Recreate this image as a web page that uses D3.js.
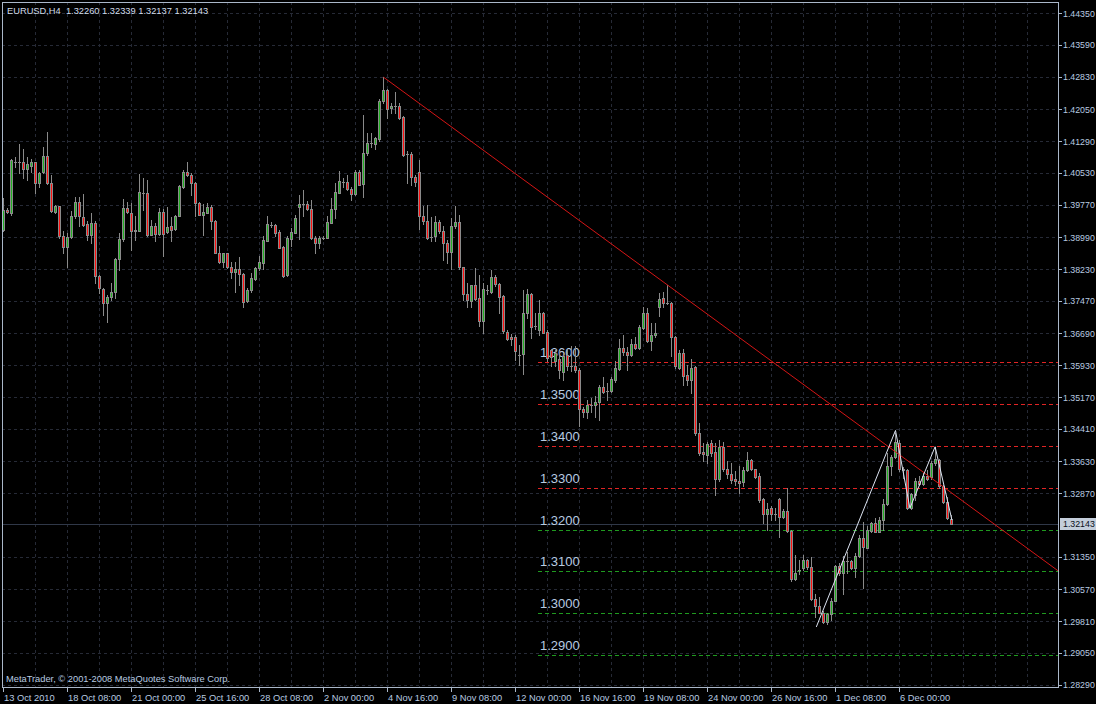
<!DOCTYPE html>
<html><head><meta charset="utf-8">
<script src="https://cdn.jsdelivr.net/npm/d3@7"></script>
<style>
html,body{margin:0;padding:0;background:#000;}
svg{display:block;}
</style></head><body>
<svg id="chart" width="1096" height="704"></svg>
<script>
// ---------------- data ----------------
const titleText = "EURUSD,H4  1.32260 1.32339 1.32137 1.32143";
const copyrightText = "MetaTrader, \u00A9 2001-2008 MetaQuotes Software Corp.";

const opens = [1.3917,1.3964,1.3958,1.4080,1.4078,1.4078,1.4063,1.4070,1.4078,1.4028,
1.4054,1.4094,1.4028,1.3960,1.3973,1.3901,1.3875,1.3899,1.3949,1.3984,
1.3947,1.3930,1.3904,1.3933,1.3807,1.3775,1.3741,1.3756,1.3767,1.3847,
1.3894,1.3968,1.3957,1.3917,1.3915,1.4006,1.4005,1.3905,1.3925,1.3907,
1.3959,1.3911,1.3925,1.3918,1.3951,1.4020,1.4054,1.4047,1.4028,1.3982,
1.3953,1.3958,1.3971,1.3939,1.3862,1.3839,1.3861,1.3827,1.3816,1.3824,
1.3811,1.3747,1.3772,1.3799,1.3825,1.3837,1.3891,1.3929,1.3929,1.3911,
1.3875,1.3808,1.3896,1.3910,1.3972,1.3978,1.3978,1.3966,1.3897,1.3885,
1.3898,1.3898,1.3934,1.3966,1.4006,1.4032,1.4031,1.4015,1.4002,1.4054,
1.4026,1.4100,1.4124,1.4121,1.4133,1.4224,1.4251,1.4208,1.4212,1.4212,
1.4186,1.4098,1.4098,1.4043,1.4055,1.3951,1.3937,1.3900,1.3901,1.3935,
1.3913,1.3885,1.3865,1.3925,1.3935,1.3827,1.3764,1.3747,1.3785,1.3753,
1.3700,1.3773,1.3769,1.3804,1.3787,1.3759,1.3673,1.3661,1.3661,1.3618,
1.3619,1.3717,1.3763,1.3687,1.3677,1.3717,1.3673,1.3630,1.3602,1.3607,
1.3578,1.3618,1.3591,1.3592,1.3582,1.3488,1.3481,1.3497,1.3498,1.3504,
1.3542,1.3532,1.3532,1.3558,1.3585,1.3634,1.3624,1.3618,1.3644,1.3634,
1.3683,1.3717,1.3652,1.3665,1.3733,1.3753,1.3743,1.3741,1.3661,1.3586,
1.3622,1.3570,1.3558,1.3588,1.3432,1.3386,1.3379,1.3406,1.3386,1.3320,
1.3398,1.3344,1.3333,1.3320,1.3317,1.3313,1.3343,1.3366,1.3344,1.3327,
1.3272,1.3236,1.3251,1.3237,1.3273,1.3229,1.3244,1.3197,1.3081,1.3103,
1.3107,1.3127,1.3111,1.3033,1.3017,1.3001,1.2980,1.2998,1.3030,1.3113,
1.3095,1.3124,1.3125,1.3109,1.3137,1.3180,1.3157,1.3197,1.3215,1.3194,
1.3223,1.3261,1.3352,1.3373,1.3406,1.3344,1.3343,1.3251,1.3283,1.3316,
1.3308,1.3327,1.3325,1.3358,1.3366,1.3304,1.3267,1.32260];

const highs = [1.3992,1.3968,1.4086,1.4092,1.4122,1.4110,1.4090,1.4087,1.4080,1.4054,
1.4114,1.4152,1.4048,1.3976,1.3975,1.3913,1.3909,1.3963,1.3996,1.3996,
1.4003,1.3937,1.3957,1.3939,1.3809,1.3777,1.3761,1.3789,1.3849,1.3909,
1.3990,1.3984,1.3980,1.3950,1.4050,1.4040,1.4036,1.3941,1.3933,1.3968,
1.3967,1.3971,1.3947,1.3953,1.4024,1.4059,1.4079,1.4052,1.4032,1.3984,
1.3979,1.3980,1.3976,1.3941,1.3877,1.3862,1.3862,1.3841,1.3841,1.3853,
1.3813,1.3777,1.3813,1.3827,1.3854,1.3901,1.3951,1.3935,1.3931,1.3917,
1.3877,1.3901,1.3921,1.3953,1.3999,1.4011,1.3987,1.3988,1.3901,1.3903,
1.3903,1.3949,1.3992,1.4028,1.4058,1.4040,1.4047,1.4020,1.4060,1.4060,
1.4192,1.4148,1.4148,1.4140,1.4229,1.4282,1.4253,1.4221,1.4247,1.4220,
1.4189,1.4106,1.4104,1.4048,1.4084,1.3975,1.3976,1.3947,1.3949,1.3941,
1.3925,1.3893,1.3945,1.3974,1.3953,1.3829,1.3789,1.3785,1.3825,1.3809,
1.3789,1.3785,1.3821,1.3808,1.3789,1.3761,1.3677,1.3668,1.3665,1.3642,
1.3773,1.3775,1.3765,1.3717,1.3748,1.3720,1.3677,1.3632,1.3630,1.3626,
1.3622,1.3630,1.3639,1.3639,1.3586,1.3494,1.3510,1.3514,1.3520,1.3546,
1.3564,1.3550,1.3564,1.3604,1.3656,1.3665,1.3636,1.3655,1.3660,1.3689,
1.3733,1.3731,1.3695,1.3693,1.3765,1.3767,1.3785,1.3745,1.3663,1.3630,
1.3631,1.3594,1.3607,1.3590,1.3454,1.3406,1.3410,1.3414,1.3406,1.3414,
1.3410,1.3363,1.3360,1.3339,1.3351,1.3350,1.3386,1.3368,1.3346,1.3336,
1.3275,1.3263,1.3256,1.3251,1.3275,1.3248,1.3300,1.3199,1.3139,1.3127,
1.3139,1.3129,1.3135,1.3046,1.3038,1.3004,1.3001,1.3036,1.3115,1.3121,
1.3137,1.3147,1.3127,1.3145,1.3187,1.3219,1.3209,1.3219,1.3227,1.3231,
1.3272,1.3382,1.3378,1.3430,1.3413,1.3350,1.3346,1.3288,1.3323,1.3328,
1.3335,1.3343,1.3365,1.3398,1.3368,1.3307,1.3279,1.32339];

const lows = [1.3915,1.3957,1.3953,1.4068,1.4052,1.4040,1.4035,1.4054,1.4006,1.4020,
1.4052,1.4027,1.3959,1.3958,1.3897,1.3861,1.3829,1.3897,1.3945,1.3925,
1.3925,1.3893,1.3885,1.3789,1.3765,1.3712,1.3697,1.3749,1.3753,1.3821,
1.3890,1.3957,1.3869,1.3893,1.3913,1.3964,1.3902,1.3904,1.3889,1.3905,
1.3854,1.3909,1.3890,1.3917,1.3950,1.4016,1.4046,1.4000,1.3949,1.3952,
1.3905,1.3957,1.3919,1.3861,1.3837,1.3829,1.3825,1.3801,1.3768,1.3785,
1.3733,1.3744,1.3769,1.3797,1.3821,1.3823,1.3889,1.3923,1.3901,1.3873,
1.3805,1.3807,1.3877,1.3909,1.3894,1.3949,1.3965,1.3894,1.3862,1.3873,
1.3894,1.3897,1.3933,1.3946,1.4004,1.4020,1.4012,1.3988,1.4000,1.4023,
1.3996,1.4096,1.4114,1.4111,1.4130,1.4220,1.4185,1.4196,1.4196,1.4181,
1.4094,1.4029,1.4024,1.4022,1.3918,1.3931,1.3894,1.3889,1.3889,1.3909,
1.3845,1.3837,1.3823,1.3921,1.3823,1.3749,1.3733,1.3733,1.3749,1.3686,
1.3670,1.3763,1.3765,1.3783,1.3717,1.3670,1.3653,1.3642,1.3606,1.3594,
1.3572,1.3705,1.3657,1.3679,1.3665,1.3669,1.3602,1.3590,1.3590,1.3562,
1.3558,1.3582,1.3580,1.3578,1.3448,1.3470,1.3466,1.3480,1.3470,1.3462,
1.3526,1.3510,1.3530,1.3554,1.3582,1.3618,1.3582,1.3616,1.3632,1.3632,
1.3679,1.3649,1.3630,1.3661,1.3711,1.3733,1.3740,1.3614,1.3586,1.3583,
1.3546,1.3546,1.3526,1.3426,1.3379,1.3363,1.3359,1.3375,1.3283,1.3315,
1.3339,1.3323,1.3311,1.3307,1.3287,1.3303,1.3341,1.3343,1.3323,1.3267,
1.3215,1.3199,1.3223,1.3223,1.3181,1.3227,1.3195,1.3078,1.3079,1.3094,
1.3103,1.3105,1.3032,1.2992,1.3000,1.2976,1.2974,1.2984,1.3028,1.3091,
1.3046,1.3095,1.3105,1.3087,1.3135,1.3060,1.3155,1.3195,1.3193,1.3193,
1.3199,1.3259,1.3331,1.3370,1.3341,1.3323,1.3248,1.3248,1.3271,1.3307,
1.3307,1.3319,1.3321,1.3354,1.3299,1.3264,1.3225,1.32137];

const closes = [1.3964,1.3960,1.4084,1.4080,1.4078,1.4063,1.4074,1.4079,1.4028,1.4052,
1.4094,1.4028,1.3963,1.3974,1.3901,1.3875,1.3899,1.3950,1.3984,1.3949,
1.3929,1.3904,1.3933,1.3807,1.3777,1.3741,1.3757,1.3768,1.3847,1.3894,
1.3968,1.3959,1.3913,1.3913,1.4007,1.4006,1.3905,1.3925,1.3907,1.3959,
1.3907,1.3923,1.3917,1.3951,1.4022,1.4055,1.4047,1.4028,1.3982,1.3953,
1.3959,1.3971,1.3939,1.3862,1.3839,1.3861,1.3827,1.3817,1.3824,1.3811,
1.3745,1.3773,1.3801,1.3825,1.3839,1.3893,1.3931,1.3929,1.3910,1.3874,
1.3807,1.3897,1.3911,1.3945,1.3978,1.3978,1.3966,1.3897,1.3886,1.3898,
1.3898,1.3935,1.3967,1.4007,1.4034,1.4032,1.4015,1.4002,1.4054,1.4025,
1.4100,1.4124,1.4124,1.4136,1.4225,1.4251,1.4206,1.4213,1.4212,1.4184,
1.4096,1.4098,1.4043,1.4031,1.3951,1.3937,1.3898,1.3900,1.3935,1.3913,
1.3885,1.3865,1.3927,1.3935,1.3827,1.3764,1.3748,1.3784,1.3751,1.3700,
1.3775,1.3773,1.3804,1.3787,1.3757,1.3674,1.3655,1.3655,1.3626,1.3618,
1.3717,1.3763,1.3685,1.3687,1.3717,1.3671,1.3610,1.3612,1.3622,1.3582,
1.3614,1.3590,1.3591,1.3582,1.3488,1.3480,1.3498,1.3497,1.3504,1.3542,
1.3529,1.3532,1.3560,1.3586,1.3634,1.3624,1.3618,1.3644,1.3634,1.3684,
1.3717,1.3652,1.3665,1.3671,1.3752,1.3741,1.3743,1.3661,1.3590,1.3622,
1.3567,1.3558,1.3586,1.3430,1.3382,1.3380,1.3405,1.3382,1.3320,1.3398,
1.3344,1.3333,1.3319,1.3315,1.3311,1.3343,1.3366,1.3344,1.3325,1.3271,
1.3236,1.3249,1.3236,1.3237,1.3229,1.3244,1.3197,1.3081,1.3095,1.3103,
1.3127,1.3111,1.3033,1.3016,1.3001,1.2980,1.2998,1.3030,1.3113,1.3095,
1.3125,1.3124,1.3107,1.3137,1.3180,1.3159,1.3199,1.3215,1.3194,1.3223,
1.3261,1.3352,1.3373,1.3410,1.3344,1.3343,1.3251,1.3285,1.3316,1.3309,
1.3327,1.3320,1.3358,1.3368,1.3303,1.3267,1.3227,1.32143];

const priceTicks = [1.44350,1.43590,1.42830,1.42050,1.41290,1.40530,1.39770,1.38990,1.38230,
1.37470,1.36690,1.35930,1.35170,1.34410,1.33630,1.32870,1.31350,1.30570,1.29810,1.29050,1.28290];
const priceTickLabels = ["1.44350","1.43590","1.42830","1.42050","1.41290","1.40530","1.39770","1.38990","1.38230",
"1.37470","1.36690","1.35930","1.35170","1.34410","1.33630","1.32870","1.31350","1.30570","1.29810","1.29050","1.28290"];

const timeLabels = ["13 Oct 2010","18 Oct 08:00","21 Oct 00:00","25 Oct 16:00","28 Oct 08:00","2 Nov 00:00",
"4 Nov 16:00","9 Nov 08:00","12 Nov 00:00","16 Nov 16:00","19 Nov 08:00","24 Nov 00:00","26 Nov 16:00",
"1 Dec 08:00","6 Dec 00:00"];
const barsPerTimeLabel = 16;
const barsPerGrid = 8;
const visibleBars = 263.75;

const resistanceLevels = [1.3600,1.3500,1.3400,1.3300];
const supportLevels = [1.3200,1.3100,1.3000,1.2900];
const levelLabels = {1.36:"1.3600",1.35:"1.3500",1.34:"1.3400",1.33:"1.3300",1.32:"1.3200",1.31:"1.3100",1.30:"1.3000",1.29:"1.2900"};
const bidPrice = 1.32143;
const bidLabel = "1.32143";

const trendAnchors = [[95, 1.4282],[263.4, 1.3103]];     // [bar index, price]
const zigzagPoints = [[203.2,1.2967],[223.0,1.3437],[226.6,1.3251],[232.9,1.3398],[237.1,1.3223]];

// ---------------- layout ----------------
const W = 1096, H = 704;
const plot = {left:2, right:1058, top:2, bottom:687};
const C = {
  bg:"#000000", frame:"#aab7c9", text:"#b8cbe0", grid:"#262a36",
  wick:"#8a8a8a", up:"#22b022", down:"#ff1010", trend:"#d41515",
  resist:"#e02424", support:"#1f9a1f", zig:"#dde4f2", bid:"#303848",
  boxBg:"#c4cedb", boxText:"#0a0f18"
};
const smallFont = "'Liberation Sans', Arial, sans-serif";

const svg = d3.select("#chart");
svg.append("rect").attr("width",W).attr("height",H).attr("fill",C.bg);

const x = d3.scaleLinear().domain([0, visibleBars]).range([3.5, 3.5 + visibleBars*4]);
const y = d3.scaleLinear().domain([1.28234, 1.44618]).range([plot.bottom, plot.top]);

svg.append("defs").append("clipPath").attr("id","clip")
  .append("rect").attr("x",plot.left).attr("y",plot.top)
  .attr("width",plot.right-plot.left).attr("height",plot.bottom-plot.top);

const g = svg.append("g").attr("clip-path","url(#clip)");
const snap = v => Math.round(v) + 0.5;

// grid
g.selectAll(".hg").data(priceTicks).join("line")
  .attr("x1",plot.left).attr("x2",plot.right)
  .attr("y1",d=>snap(y(d))).attr("y2",d=>snap(y(d)))
  .attr("stroke",C.grid).attr("stroke-dasharray","3,3");
const gridBars = d3.range(barsPerGrid, visibleBars, barsPerGrid);
g.selectAll(".vg").data(gridBars).join("line")
  .attr("x1",d=>x(d)).attr("x2",d=>x(d))
  .attr("y1",plot.top).attr("y2",plot.bottom)
  .attr("stroke",C.grid).attr("stroke-dasharray","3,3");

// bid line
g.append("line").attr("x1",plot.left).attr("x2",plot.right)
  .attr("y1",snap(y(bidPrice))).attr("y2",snap(y(bidPrice)))
  .attr("stroke",C.bid);

// horizontal levels
const levelStartX = 538;
const levels = resistanceLevels.map(v=>({v,c:C.resist})).concat(supportLevels.map(v=>({v,c:C.support})));
g.selectAll(".lvl").data(levels).join("line")
  .attr("x1",levelStartX).attr("x2",plot.right)
  .attr("y1",d=>snap(y(d.v))).attr("y2",d=>snap(y(d.v)))
  .attr("stroke",d=>d.c).attr("stroke-dasharray","4,3");
g.selectAll(".lvlt").data(levels).join("text")
  .attr("x",levelStartX+2).attr("y",d=>y(d.v)-5)
  .attr("fill",C.text).attr("font-family",smallFont).attr("font-size",13)
  .text(d=>levelLabels[d.v]);

// candles: gray wick + gray-outlined body with coloured core
const bars = opens.map((o,i)=>({i,o,h:highs[i],l:lows[i],c:closes[i]}));
const cg = g.append("g");
cg.selectAll(".wick").data(bars).join("line")
  .attr("x1",d=>x(d.i)).attr("x2",d=>x(d.i))
  .attr("y1",d=>Math.round(y(d.h))).attr("y2",d=>Math.round(y(d.l))+1)
  .attr("stroke",C.wick).attr("stroke-width",1);
const bodyTop = d=>Math.round(y(Math.max(d.o,d.c)));
const bodyH = d=>Math.max(1, Math.round(y(Math.min(d.o,d.c))) - bodyTop(d) + 1);
cg.selectAll(".body").data(bars).join("rect")
  .attr("x",d=>x(d.i)-1.5).attr("width",3)
  .attr("y",bodyTop).attr("height",bodyH)
  .attr("fill",C.wick);
cg.selectAll(".core").data(bars.filter(d=>d.c!==d.o && bodyH(d)>2)).join("rect")
  .attr("x",d=>x(d.i)-0.5).attr("width",1)
  .attr("y",d=>bodyTop(d)+1).attr("height",d=>bodyH(d)-2)
  .attr("fill",d=>d.c>d.o?C.up:C.down);

// trend line (ray)
const [ta, tb] = trendAnchors;
const slope = (tb[1]-ta[1])/(tb[0]-ta[0]);
const tEnd = x.invert(plot.right + 2);
g.append("line")
  .attr("x1",x(ta[0])).attr("y1",y(ta[1]))
  .attr("x2",x(tEnd)).attr("y2",y(ta[1] + slope*(tEnd-ta[0])))
  .attr("stroke",C.trend).attr("stroke-width",1);

// zigzag
g.append("path").datum(zigzagPoints)
  .attr("d",d3.line().x(d=>x(d[0])).y(d=>y(d[1])))
  .attr("fill","none").attr("stroke",C.zig).attr("stroke-width",1);

// frame
svg.append("rect").attr("x",plot.left+0.5).attr("y",plot.top+0.5)
  .attr("width",plot.right-plot.left).attr("height",plot.bottom-plot.top)
  .attr("fill","none").attr("stroke",C.frame);

// right axis
const ra = svg.append("g");
ra.selectAll("line").data(priceTicks).join("line")
  .attr("x1",plot.right).attr("x2",plot.right+4)
  .attr("y1",d=>snap(y(d))).attr("y2",d=>snap(y(d)))
  .attr("stroke",C.frame);
ra.selectAll("text").data(priceTicks).join("text")
  .attr("x",plot.right+5).attr("y",d=>y(d)+3.5)
  .attr("fill",C.text).attr("font-family",smallFont).attr("font-size",8.8)
  .text((d,i)=>priceTickLabels[i]);

// bid box
const by = y(bidPrice);
svg.append("rect").attr("x",plot.right+2).attr("y",Math.round(by)-6).attr("width",W-plot.right-2).attr("height",12)
  .attr("fill",C.boxBg);
svg.append("text").attr("x",plot.right+5).attr("y",by+3.5)
  .attr("fill",C.boxText).attr("font-family",smallFont).attr("font-size",8.8).text(bidLabel);

// bottom axis
const ba = svg.append("g");
const tickBars = timeLabels.map((t,j)=>j*barsPerTimeLabel);
ba.selectAll("line").data(tickBars).join("line")
  .attr("x1",d=>x(d)).attr("x2",d=>x(d))
  .attr("y1",plot.bottom).attr("y2",plot.bottom+5)
  .attr("stroke",C.frame);
ba.selectAll("text").data(timeLabels).join("text")
  .attr("x",(d,j)=>x(tickBars[j])+0.5).attr("y",701)
  .attr("fill",C.text).attr("font-family",smallFont).attr("font-size",9.3)
  .text(d=>d);

// title & copyright
svg.append("text").attr("x",7).attr("y",14).attr("fill","#d0dcea")
  .attr("font-family",smallFont).attr("font-size",9.3)
  .style("white-space","pre").text(titleText);
svg.append("text").attr("x",6).attr("y",682).attr("fill",C.text)
  .attr("font-family",smallFont).attr("font-size",9.3).text(copyrightText);
</script>
</body></html>
